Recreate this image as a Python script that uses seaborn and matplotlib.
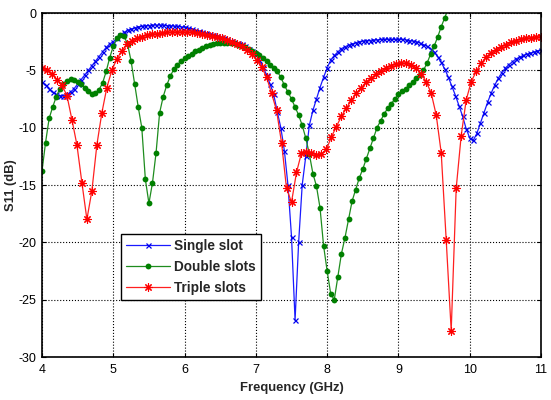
import numpy as np
import pandas as pd
import matplotlib
matplotlib.use("Agg")
import matplotlib.pyplot as plt
import seaborn as sns

# Frequency grids (GHz)
freq_fine = np.round(np.linspace(4.0, 11.0, 141), 2)   # 0.05 GHz step
freq_red = np.round(np.linspace(4.0, 11.0, 101), 2)    # 0.07 GHz step

single_slot = [
    -6.0, -6.3, -6.6, -6.9, -7.1, -7.2, -7.2, -7.1, -6.9, -6.6,
    -6.2, -5.8, -5.4, -5.0, -4.6, -4.2, -3.8, -3.4, -3.0, -2.7,
    -2.5, -2.2, -1.9, -1.7, -1.5, -1.4, -1.3, -1.2, -1.15, -1.1,
    -1.1, -1.05, -1.05, -1.05, -1.05, -1.1, -1.1, -1.15, -1.15, -1.2,
    -1.25, -1.3, -1.4, -1.5, -1.6, -1.65, -1.75, -1.8, -1.9, -2.0,
    -2.1, -2.2, -2.3, -2.4, -2.5, -2.6, -2.7, -2.9, -3.1, -3.3,
    -3.6, -4.1, -4.7, -5.4, -6.2, -7.1, -8.6, -10.0, -12.0, -15.0,
    -19.5, -26.8, -20.0, -15.0, -12.5, -9.8, -8.5, -7.5, -6.5, -5.6,
    -4.8, -4.1, -3.7, -3.4, -3.1, -2.95, -2.8, -2.7, -2.6, -2.5,
    -2.45, -2.4, -2.4, -2.35, -2.35, -2.3, -2.3, -2.3, -2.3, -2.3,
    -2.3, -2.3, -2.35, -2.4, -2.45, -2.5, -2.6, -2.75, -2.9, -3.1,
    -3.4, -3.8, -4.3, -4.9, -5.6, -6.4, -7.2, -8.1, -9.0, -10.1,
    -10.9, -11.1, -10.5, -9.6, -8.7, -7.8, -7.0, -6.3, -5.7, -5.2,
    -4.8, -4.5, -4.25, -4.0, -3.85, -3.7, -3.6, -3.5, -3.4, -3.3,
    -3.2,
]

double_slots = [
    -13.8, -11.3, -9.2, -8.2, -7.3, -6.6, -6.15, -5.9, -5.75, -5.8,
    -6.0, -6.2, -6.5, -6.8, -7.05, -7.0, -6.7, -6.1, -5.1, -3.9,
    -2.9, -2.2, -1.9, -2.0, -2.7, -4.2, -6.2, -8.2, -10.0, -14.5,
    -16.6, -14.8, -12.2, -8.7, -7.3, -6.3, -5.5, -4.9, -4.5, -4.2,
    -3.95, -3.75, -3.55, -3.35, -3.2, -3.05, -2.9, -2.8, -2.7, -2.65,
    -2.6, -2.6, -2.6, -2.6, -2.65, -2.75, -2.85, -3.0, -3.15, -3.3,
    -3.45, -3.7, -3.95, -4.2, -4.5, -4.8, -5.1, -5.6, -6.3, -6.9,
    -7.5, -8.2, -8.9, -9.8, -10.9, -12.3, -14.0, -15.1, -17.0, -20.3,
    -22.5, -24.5, -25.0, -23.0, -21.0, -19.6, -18.0, -16.4, -15.4, -14.4,
    -13.6, -12.7, -11.8, -10.9, -10.0, -9.4, -8.8, -8.3, -7.9, -7.5,
    -7.1, -6.8, -6.6, -6.3, -6.0, -5.7, -5.4, -5.0, -4.4, -3.6,
    -2.9, -2.1, -1.2, -0.4, 0.4,
]

triple_slots = [
    -4.8, -5.0, -5.3, -5.8, -6.3, -7.2, -9.3, -11.5, -14.8, -18.0,
    -15.5, -11.5, -8.7, -6.5, -5.0, -4.0, -3.3, -2.7, -2.4, -2.2,
    -2.05, -1.95, -1.85, -1.8, -1.75, -1.7, -1.65, -1.65, -1.65, -1.65,
    -1.7, -1.75, -1.8, -1.9, -2.0, -2.1, -2.2, -2.35, -2.5, -2.7,
    -2.9, -3.2, -3.6, -4.1, -4.7, -5.6, -7.0, -8.5, -11.3, -15.3,
    -16.5, -13.9, -12.2, -12.1, -12.2, -12.4, -12.3, -11.9, -10.8, -9.9,
    -9.0, -8.3, -7.6, -7.0, -6.5, -6.0, -5.7, -5.35, -5.05, -4.8,
    -4.6, -4.45, -4.35, -4.4, -4.55, -4.8, -5.3, -6.0, -7.0, -8.9,
    -12.2, -19.8, -27.7, -15.3, -10.7, -7.6, -6.0, -5.1, -4.4, -3.85,
    -3.5, -3.2, -2.95, -2.75, -2.55, -2.4, -2.3, -2.2, -2.15, -2.1,
    -2.05,
]

x_ticks = [4, 5, 6, 7, 8, 9, 10, 11]
y_ticks = [0, -5, -10, -15, -20, -25, -30]

sns.set_theme(style="white")
plt.rcParams["font.family"] = ["Liberation Sans", "DejaVu Sans"]
plt.rcParams["axes.unicode_minus"] = False

fig = plt.figure(figsize=(5.51, 4.0), dpi=100)
ax = fig.add_axes([0.0762, 0.1075, 0.9057, 0.86])

df_s = pd.DataFrame({"f": freq_fine[:len(single_slot)], "s11": single_slot})
df_d = pd.DataFrame({"f": freq_fine[:len(double_slots)], "s11": double_slots})
df_t = pd.DataFrame({"f": freq_red[:len(triple_slots)], "s11": triple_slots})

sns.lineplot(data=df_s, x="f", y="s11", ax=ax, color="#1a1aff", lw=0.9,
             marker="x", markersize=3.6, markeredgewidth=0.9, markeredgecolor="#0000ee",
             estimator=None, label="Single slot")
sns.lineplot(data=df_d, x="f", y="s11", ax=ax, color="#1e8c1e", lw=0.9,
             marker="o", markersize=4.2, markeredgewidth=0, markerfacecolor="#008000",
             estimator=None, label="Double slots")
sns.lineplot(data=df_t, x="f", y="s11", ax=ax, color="#ff2020", lw=0.9,
             marker=(8, 2, 0), markersize=6, markeredgewidth=0.8, markeredgecolor="#ff0000",
             estimator=None, label="Triple slots")

ax.set_xlim(4, 11)
ax.set_ylim(-30, 0)
ax.set_xticks(x_ticks)
ax.set_yticks(y_ticks)
ax.set_xticklabels([str(t) for t in x_ticks], fontsize=9)
ax.set_yticklabels([str(t) for t in y_ticks], fontsize=9)
ax.grid(True, color="black", linestyle=":", linewidth=0.8)
ax.tick_params(direction="in", length=3, width=0.8, top=True, right=True,
               bottom=True, left=True, colors="black")
ax.tick_params(axis="x", pad=5)
ax.tick_params(axis="y", pad=4)
for sp in ax.spines.values():
    sp.set_color("black")
    sp.set_linewidth(1.2)

ax.set_xlabel("Frequency (GHz)", fontsize=9.4, fontweight="bold", labelpad=4)
ax.set_ylabel("S11 (dB)", fontsize=9.4, fontweight="bold", labelpad=1)

leg = ax.legend(loc="lower left", bbox_to_anchor=(0.158, 0.165), fontsize=9.8,
                frameon=True, fancybox=False, edgecolor="black", framealpha=1,
                handlelength=3.2, borderpad=0.4, labelspacing=0.5, handletextpad=0.3,
                borderaxespad=0)
leg.get_frame().set_linewidth(1.0)
for t in leg.get_texts():
    t.set_fontweight("bold")

fig.savefig("out.png", dpi=100)
